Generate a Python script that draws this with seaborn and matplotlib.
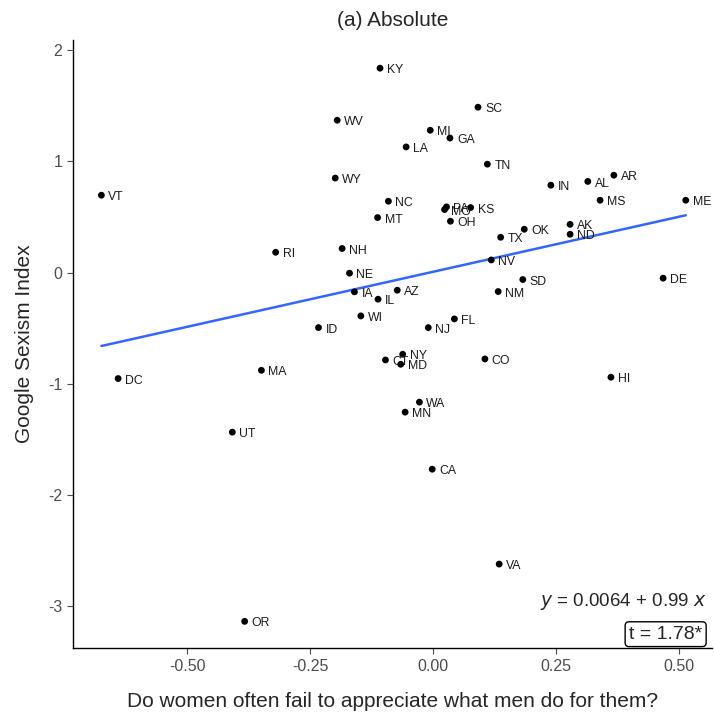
import numpy as np
import pandas as pd
import matplotlib
matplotlib.use("Agg")
import matplotlib.pyplot as plt
import seaborn as sns

# state, survey answer (x), google sexism index (y)
states = ["KY", "SC", "WV", "MI", "GA", "LA", "TN", "WY", "IN", "AL", "AR", "VT",
          "NC", "PA", "MO", "KS", "MS", "ME", "MT", "OH", "OK", "AK", "ND", "TX",
          "RI", "NH", "NV", "NE", "DE", "SD", "AZ", "IA", "NM", "IL", "WI", "FL",
          "ID", "NJ", "NY", "CT", "MD", "CO", "MA", "DC", "HI", "WA", "MN", "UT",
          "CA", "VA", "OR"]
survey = [-0.108, 0.091, -0.195, -0.006, 0.034, -0.055, 0.110, -0.199, 0.239, 0.314, 0.367, -0.674,
          -0.091, 0.027, 0.023, 0.076, 0.339, 0.513, -0.113, 0.035, 0.185, 0.278, 0.278, 0.137,
          -0.320, -0.185, 0.118, -0.170, 0.467, 0.182, -0.073, -0.160, 0.132, -0.112, -0.147, 0.043,
          -0.233, -0.010, -0.062, -0.097, -0.066, 0.105, -0.349, -0.640, 0.361, -0.028, -0.057, -0.408,
          -0.002, 0.134, -0.383]
sexism = [1.838, 1.487, 1.370, 1.280, 1.210, 1.130, 0.975, 0.850, 0.786, 0.820, 0.876, 0.696,
          0.642, 0.591, 0.567, 0.585, 0.651, 0.651, 0.495, 0.462, 0.390, 0.434, 0.345, 0.318,
          0.183, 0.217, 0.114, -0.005, -0.050, -0.062, -0.158, -0.173, -0.170, -0.239, -0.389, -0.416,
          -0.494, -0.494, -0.734, -0.785, -0.824, -0.776, -0.878, -0.952, -0.940, -1.164, -1.254, -1.434,
          -1.767, -2.620, -3.135]

df = pd.DataFrame({"state": states, "x": survey, "y": sexism})

sns.set_style("ticks")
plt.rcParams['font.family'] = ['Liberation Sans', 'DejaVu Sans']
plt.rcParams['axes.unicode_minus'] = False

fig = plt.figure(figsize=(7.14, 7.17), dpi=100)
ax = fig.add_axes([0.102, 0.096, 0.895, 0.848])

sns.regplot(data=df, x="x", y="y", scatter=False, ci=None, ax=ax,
            line_kws={"color": "#3366FF", "linewidth": 1.8})
sns.scatterplot(data=df, x="x", y="y", color="black", s=24, edgecolor="none", ax=ax, zorder=3)

for _, r in df.iterrows():
    ax.annotate(r["state"], (r["x"], r["y"]), xytext=(5, -1.5), textcoords="offset points",
                fontsize=8.8, va="center", ha="left", color="#1a1a1a")

ax.set_xlim(-0.732, 0.566)
ax.set_ylim(-3.376, 2.09)
ax.set_xticks([-0.5, -0.25, 0, 0.25, 0.5])
ax.set_xticklabels(["-0.50", "-0.25", "0.00", "0.25", "0.50"])
ax.set_yticks([-3, -2, -1, 0, 1, 2])
ax.tick_params(axis="both", labelsize=11.5, colors="#4D4D4D", length=4, width=0.8, labelcolor="#4D4D4D")
for s in ["top", "right"]:
    ax.spines[s].set_visible(False)
for s in ["left", "bottom"]:
    ax.spines[s].set_color("black")
    ax.spines[s].set_linewidth(1.0)

ax.set_xlabel("Do women often fail to appreciate what men do for them?", fontsize=15, labelpad=13)
ax.set_ylabel("Google Sexism Index", fontsize=15, labelpad=10)
ax.set_title("(a) Absolute", fontsize=15, pad=10)

ax.text(0.992, 0.077, r"$y$ = 0.0064 + 0.99 $x$", transform=ax.transAxes,
        ha="right", va="center", fontsize=13.5)
ax.text(0.985, 0.023, "t = 1.78*", transform=ax.transAxes, ha="right", va="center", fontsize=14,
        bbox=dict(boxstyle="round,pad=0.2", fc="white", ec="black", lw=1))

fig.savefig("out.png", dpi=100)
